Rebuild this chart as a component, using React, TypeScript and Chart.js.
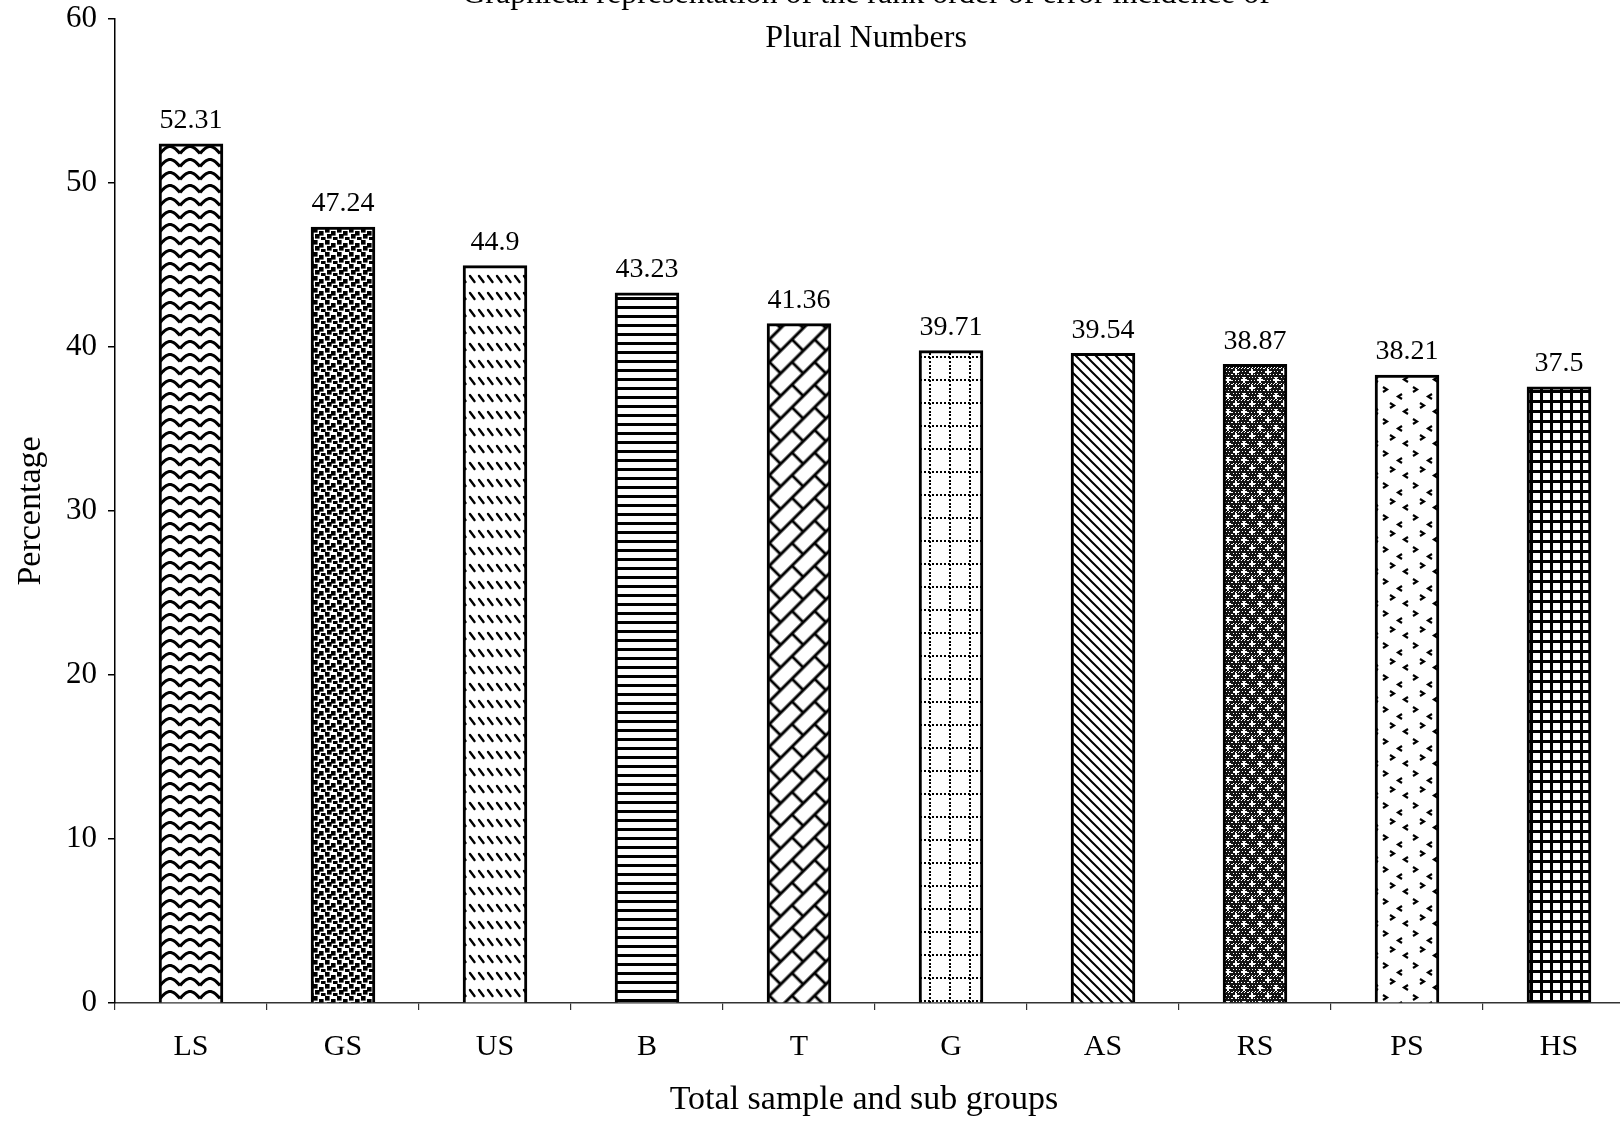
import React, { useEffect, useRef } from 'react';
import { Chart, registerables } from 'chart.js';

Chart.register(...registerables);

// Chart content
const TITLE_LINES = [
  'Graphical representation of the rank order of error incidence of',
  'Plural Numbers',
];
const GROUPS = ['LS', 'GS', 'US', 'B', 'T', 'G', 'AS', 'RS', 'PS', 'HS'];
const PERCENTAGES = [52.31, 47.24, 44.9, 43.23, 41.36, 39.71, 39.54, 38.87, 38.21, 37.5];
const Y_MIN = 0;
const Y_MAX = 60;
const Y_STEP = 10;
const X_TITLE = 'Total sample and sub groups';
const Y_TITLE = 'Percentage';
// Hatch fill used for each group's bar, in the same order as GROUPS
const FILLS = ['waves', 'squares', 'dashes', 'horizontal', 'bricks', 'dottedGrid', 'diagonal', 'darkStipple', 'chevrons', 'grid'];

const FONT = '"Liberation Serif", "Times New Roman", serif';

type Paint = (c: CanvasRenderingContext2D) => void;

function tilePattern(ctx: CanvasRenderingContext2D, w: number, h: number, paint: Paint, bg = '#ffffff'): CanvasPattern {
  const tile = document.createElement('canvas');
  tile.width = w;
  tile.height = h;
  const c = tile.getContext('2d') as CanvasRenderingContext2D;
  c.fillStyle = bg;
  c.fillRect(0, 0, w, h);
  c.fillStyle = '#000';
  c.strokeStyle = '#000';
  paint(c);
  return ctx.createPattern(tile, 'repeat') as CanvasPattern;
}

function buildFill(ctx: CanvasRenderingContext2D, kind: string): CanvasPattern | string {
  switch (kind) {
    case 'waves':
      return tilePattern(ctx, 20, 13, (c) => {
        c.lineWidth = 3;
        c.lineJoin = 'round';
        for (const oy of [-13, 0, 13]) {
          c.beginPath();
          for (let x = 0; x <= 20; x += 0.5) {
            const y = oy + 10.5 - 7 * Math.abs(Math.sin((Math.PI * x) / 20));
            if (x === 0) c.moveTo(x, y);
            else c.lineTo(x, y);
          }
          c.stroke();
        }
      });
    case 'squares':
      return tilePattern(ctx, 12, 12, (c) => {
        const pts = [[1, 0], [7, 3], [3, 6], [9, 9], [-3, 9]];
        pts.forEach(([x, y]) => c.fillRect(x, y, 4.6, 4.6));
      });
    case 'dashes':
      return tilePattern(ctx, 9, 17, (c) => {
        c.lineWidth = 2.4;
        c.lineCap = 'round';
        c.beginPath();
        c.moveTo(2, 4);
        c.lineTo(6.5, 10);
        c.stroke();
      });
    case 'horizontal':
      return tilePattern(ctx, 4, 9, (c) => {
        c.fillRect(0, 0, 4, 3);
      });
    case 'bricks': {
      const p = tilePattern(ctx, 32, 32, (c) => {
        c.lineWidth = 2.8;
        c.beginPath();
        for (const y of [0, 16, 32]) {
          c.moveTo(0, y);
          c.lineTo(32, y);
        }
        c.moveTo(0, 0); c.lineTo(0, 16);
        c.moveTo(32, 0); c.lineTo(32, 16);
        c.moveTo(16, 16); c.lineTo(16, 32);
        c.stroke();
      });
      p.setTransform(new DOMMatrix().rotate(-45));
      return p;
    }
    case 'dottedGrid':
      return tilePattern(ctx, 20, 23, (c) => {
        for (let y = 0; y < 23; y += 4) c.fillRect(9, y, 2, 2);
        for (let x = 0; x < 20; x += 4) c.fillRect(x, 11, 2, 2);
      });
    case 'diagonal':
      return tilePattern(ctx, 10, 10, (c) => {
        c.lineWidth = 2;
        c.beginPath();
        for (const k of [-10, 0, 10]) {
          c.moveTo(k - 1, -1);
          c.lineTo(k + 11, 11);
        }
        c.stroke();
      });
    case 'darkStipple':
      return tilePattern(ctx, 16, 16, (c) => {
        c.fillStyle = '#ffffff';
        for (let y = 0; y < 16; y += 3) {
          for (let x = (y / 3) % 2 ? 1 : 0; x < 16; x += 3) c.fillRect(x, y, 1, 1);
        }
        for (const [x, y] of [[4, 4], [12, 12]]) {
          c.fillRect(x - 1, y - 3, 2, 6);
          c.fillRect(x - 3, y - 1, 6, 2);
        }
      }, '#151515');
    case 'chevrons':
      return tilePattern(ctx, 30, 32, (c) => {
        c.lineWidth = 2.2;
        const right = (x: number, y: number) => { c.moveTo(x, y); c.lineTo(x + 4, y + 2.5); c.lineTo(x, y + 5); };
        const left = (x: number, y: number) => { c.moveTo(x + 4, y); c.lineTo(x, y + 2.5); c.lineTo(x + 4, y + 5); };
        c.beginPath();
        right(3, 3);
        left(18, 10);
        right(10, 19);
        left(24, 25);
        c.stroke();
      });
    case 'grid':
      return tilePattern(ctx, 10, 10, (c) => {
        c.fillRect(0, 0, 10, 3);
        c.fillRect(0, 0, 3, 10);
      });
    default:
      return '#888';
  }
}

// Two-line heading (its first line runs off the top edge) and the x-axis caption
const headingPlugin = {
  id: 'heading',
  afterDraw(chart: Chart) {
    const ctx = chart.ctx;
    ctx.save();
    ctx.fillStyle = '#000';
    ctx.textAlign = 'center';
    ctx.textBaseline = 'alphabetic';
    ctx.font = `32px ${FONT}`;
    ctx.fillText(TITLE_LINES[0], 866, 3);
    ctx.fillText(TITLE_LINES[1], 866, 47);
    ctx.font = `34px ${FONT}`;
    ctx.textBaseline = 'middle';
    ctx.fillText(X_TITLE, 864, 1100);
    ctx.restore();
  },
};

const valueLabelPlugin = {
  id: 'valueLabels',
  afterDatasetsDraw(chart: Chart) {
    const ctx = chart.ctx;
    const meta = chart.getDatasetMeta(0);
    const values = chart.data.datasets[0].data as number[];
    ctx.save();
    ctx.font = `28px ${FONT}`;
    ctx.fillStyle = '#000';
    ctx.textAlign = 'center';
    ctx.textBaseline = 'alphabetic';
    meta.data.forEach((bar: any, i: number) => {
      ctx.fillText(String(values[i]), bar.x, bar.y - 17);
    });
    ctx.restore();
  },
};

export default function App() {
  const canvasRef = useRef<HTMLCanvasElement | null>(null);

  useEffect(() => {
    const canvas = canvasRef.current;
    if (!canvas) return;
    const ctx = canvas.getContext('2d') as CanvasRenderingContext2D;
    const fills = FILLS.map((f) => buildFill(ctx, f));

    const chart = new Chart(canvas, {
      type: 'bar',
      data: {
        labels: GROUPS,
        datasets: [
          {
            data: PERCENTAGES,
            backgroundColor: fills as any,
            borderColor: '#000',
            borderWidth: 3,
            inflateAmount: 1.5,
            categoryPercentage: 0.5,
            barPercentage: 0.81,
          },
        ],
      },
      options: {
        animation: false,
        responsive: false,
        devicePixelRatio: 1,
        layout: { autoPadding: false, padding: { top: 19, right: 5, left: 0, bottom: 0 } },
        plugins: {
          legend: { display: false },
          tooltip: { enabled: false },
          title: { display: false },
        },
        scales: {
          x: {
            offset: true,
            grid: { drawOnChartArea: false, drawTicks: true, tickLength: 7, color: '#333', lineWidth: 1.2, offset: true },
            border: { display: true, color: '#333', width: 1.4, dash: [14, 3, 4, 3] },
            ticks: { font: { family: FONT, size: 30 }, color: '#000', padding: 19, maxRotation: 0, autoSkip: false },
            afterFit: (scale: any) => {
              scale.height = 119;
              scale.paddingLeft = 0;
              scale.paddingRight = 0;
            },
          },
          y: {
            min: Y_MIN,
            max: Y_MAX,
            grid: { drawOnChartArea: false, drawTicks: true, tickLength: 7, color: '#000', lineWidth: 1.5 },
            border: { display: true, color: '#000', width: 1.5 },
            ticks: { stepSize: Y_STEP, font: { family: FONT, size: 31 }, color: '#000', padding: 11 },
            title: { display: true, text: Y_TITLE, font: { family: FONT, size: 34 }, color: '#000', padding: { top: 11, bottom: 0 } },
            afterFit: (scale: any) => {
              scale.width = 115;
              scale.paddingTop = 0;
              scale.paddingBottom = 0;
            },
          },
        },
      },
      plugins: [headingPlugin, valueLabelPlugin],
    });

    return () => chart.destroy();
  }, []);

  return (
    <div style={{ position: 'fixed', left: 0, top: 0, width: 1620, height: 1122, overflow: 'hidden', background: '#fff' }}>
      <canvas ref={canvasRef} width={1640} height={1122} style={{ display: 'block' }} />
    </div>
  );
}
